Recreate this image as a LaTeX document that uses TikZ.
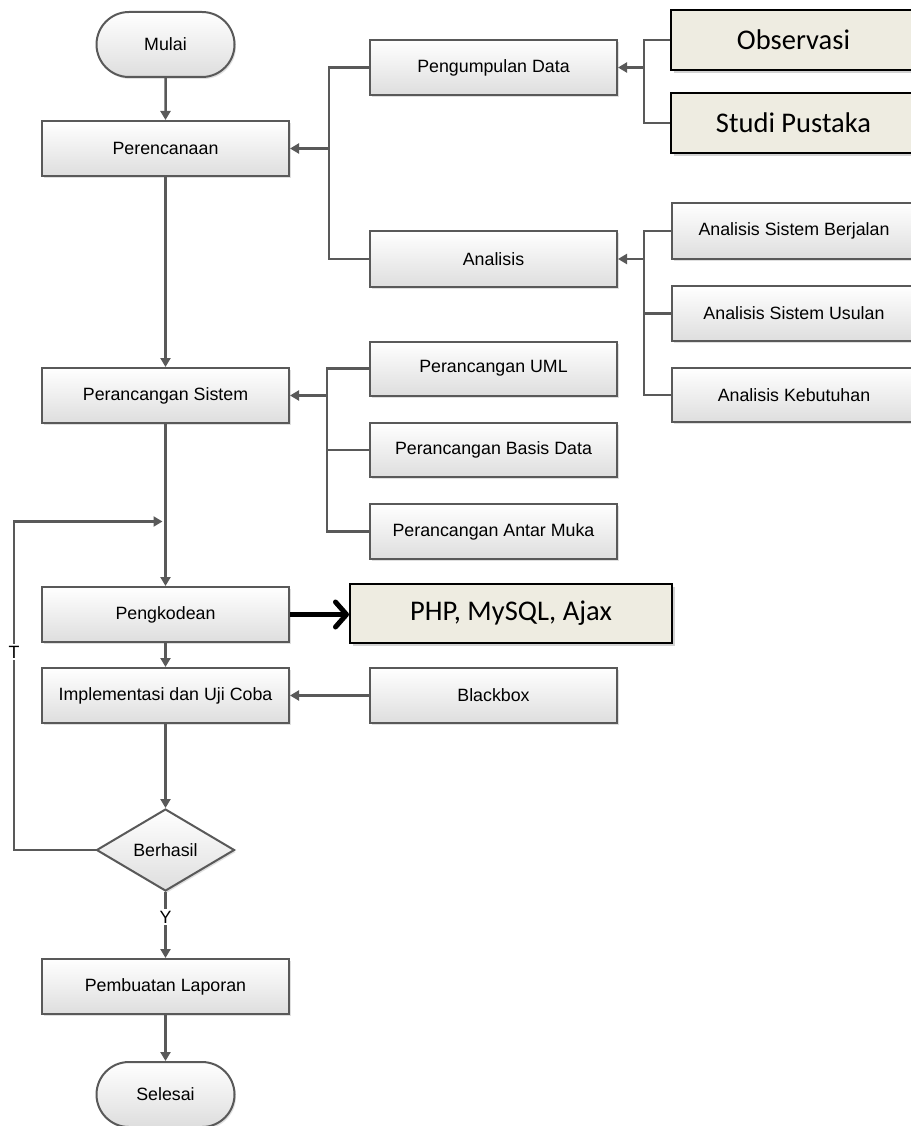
\documentclass[tikz,border=0pt]{standalone}
\usepackage{fontspec}
\setmainfont{Liberation Sans}
\newfontfamily\calfont{Carlito}
\usetikzlibrary{arrows.meta,shapes.geometric,shapes.misc,shadows}
\definecolor{ln}{HTML}{595959}
\definecolor{beige}{HTML}{EEECE1}
\begin{document}
\begin{tikzpicture}[x=1pt,y=-1pt,
  txt/.style={font=\fontsize{17.8}{21}\selectfont},
  box/.style={txt,rectangle,draw=ln,line width=2pt,top color=white,bottom color=black!13,
    minimum width=247pt,minimum height=55pt,inner sep=0pt,
    drop shadow={shadow xshift=1.5pt,shadow yshift=-2pt,opacity=0.25}},
  term/.style={box,rounded rectangle,minimum width=138pt,minimum height=65pt},
  dec/.style={txt,diamond,draw=ln,line width=2pt,top color=white,bottom color=black!13,
    minimum width=138pt,minimum height=82pt,inner sep=0pt,aspect=1.68,
    drop shadow={shadow xshift=1.5pt,shadow yshift=-2pt,opacity=0.25}},
  bbox/.style={rectangle,draw=black,line width=2pt,fill=beige,inner sep=0pt,
    font=\calfont\fontsize{28.5}{34}\selectfont,
    drop shadow={shadow xshift=3pt,shadow yshift=-3pt,opacity=0.35}},
  conn/.style={draw=ln,line width=2.5pt},
  arr/.style={conn,-{Triangle[length=9pt,width=10pt]}},
  lbl/.style={txt,fill=white,inner sep=1.5pt}
]
\fill[white] (0,0) rectangle (910,1126);
\useasboundingbox (0,0) rectangle (910,1126);

% main column
\node[term] (mulai) at (165.5,44.5) {Mulai};
\node[box] (perenc) at (165.5,148.5) {Perencanaan};
\node[box] (sistem) at (165.5,395.5) {Perancangan Sistem};
\node[box] (kode) at (165.5,614.5) {Pengkodean};
\node[box] (impl) at (165.5,695.5) {Implementasi dan Uji Coba};
\node[dec] (hasil) at (165.5,850) {Berhasil};
\node[box] (lapor) at (165.5,986.5) {Pembuatan Laporan};
\node[term] (selesai) at (165.5,1094.5) {Selesai};

% second column
\node[box] (kumpul) at (493.5,67.5) {Pengumpulan Data};
\node[box,minimum height=56pt] (anal) at (493.5,259) {Analisis};
\node[box,minimum height=54pt] (uml) at (493.5,368.5) {Perancangan UML};
\node[box,minimum height=54pt] (basis) at (493.5,450) {Perancangan Basis Data};
\node[box,minimum height=55pt] (antar) at (493.5,531.5) {Perancangan Antar Muka};
\node[box] (black) at (493.5,695.5) {Blackbox};
\node[bbox,minimum width=322pt,minimum height=59pt] (php) at (511,613.5) {PHP, MySQL, Ajax};

% third column
\node[bbox,minimum width=245pt,minimum height=60pt] (obs) at (793.5,40) {Observasi};
\node[bbox,minimum width=245pt,minimum height=60pt] (studi) at (793.5,123) {Studi Pustaka};
\node[box,minimum width=244pt,minimum height=56pt] (asb) at (794,231) {Analisis Sistem Berjalan};
\node[box,minimum width=244pt,minimum height=55pt] (asu) at (794,313.5) {Analisis Sistem Usulan};
\node[box,minimum width=244pt,minimum height=54pt] (ak) at (794,395) {Analisis Kebutuhan};

% main flow
\draw[arr] (mulai) -- (perenc);
\draw[arr] (perenc) -- (sistem);
\draw[arr] (sistem) -- (kode);
\draw[arr] (kode) -- (impl);
\draw[arr] (impl) -- (hasil);
\draw[arr] (hasil) -- node[lbl,pos=0.38] {Y} (lapor);
\draw[arr] (lapor) -- (selesai);

% loop back
\coordinate (l1) at (14,850);
\coordinate (l2) at (14,521.5);
\coordinate (lend) at (162.5,521.5);
\draw[arr] (hasil.west) -- (l1) -- (l2) -- (lend);
\node[lbl] (tlab) at (14,652) {T};

% branches to Perencanaan
\coordinate (b1) at (329,148.5);
\draw[conn] (kumpul.west) -| (b1) |- (anal.west);
\draw[arr] (b1) -- (perenc.east);

\coordinate (b2) at (644,67.5);
\draw[conn] (obs.west) -| (b2) |- (studi.west);
\draw[arr] (b2) -- (kumpul.east);

\coordinate (b3) at (644,259);
\draw[conn] (asb.west) -| (b3) |- (ak.west);
\draw[conn] (asu.west) -- (asu.west -| b3);
\draw[arr] (b3) -- (anal.east);

% branches to Perancangan Sistem
\coordinate (b4) at (327,395.5);
\draw[conn] (uml.west) -| (b4) |- (antar.west);
\draw[conn] (basis.west) -- (basis.west -| b4);
\draw[arr] (b4) -- (sistem.east);

% others
\draw[arr] (black) -- (impl);
\draw[draw=black,line width=5pt,-{Straight Barb[length=11pt,width=25pt,line cap=round,line join=round]}] (kode.east) -- (kode.east -| php.west);
\end{tikzpicture}
\end{document}
